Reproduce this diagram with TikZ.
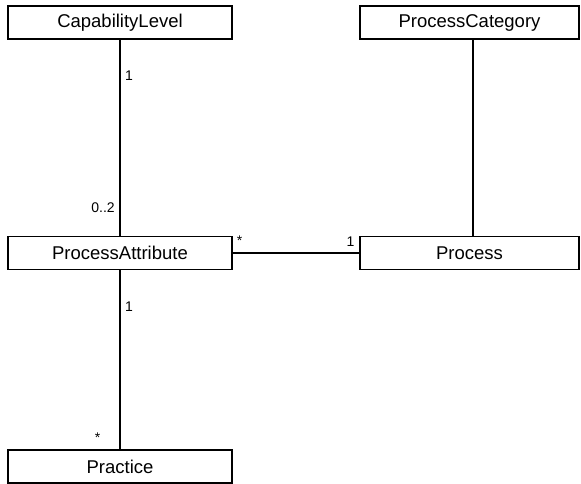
\documentclass[tikz,border=0pt]{standalone}
\usepackage{fontspec}
\setmainfont{Liberation Sans}
\begin{document}
\begin{tikzpicture}[x=1pt, y=-1pt,
  classbox/.style={draw, line width=1.5pt, minimum width=224pt, minimum height=33pt,
    inner sep=0pt, font=\fontsize{18.5}{22}\selectfont},
  assoc/.style={line width=1.5pt},
  mult/.style={inner sep=0pt, anchor=base, font=\fontsize{14}{16}\selectfont}]
  \useasboundingbox (0,0) rectangle (581,484);

  % classes
  \node[classbox, minimum width=224pt] (cap)  at (120,22.5)  {CapabilityLevel};
  \node[classbox, minimum width=219pt] (cat)  at (469.5,22.5) {ProcessCategory};
  \node[classbox, minimum width=224pt] (attr) at (120,252.75) {ProcessAttribute};
  \node[classbox, minimum width=219pt] (proc) at (469.5,252.75) {Process};
  \node[classbox, minimum width=224pt] (prac) at (120,466.5) {Practice};

  % associations
  \draw[assoc] (cap.south) -- (attr.north);
  \draw[assoc] (attr.east) -- (proc.west);
  \draw[assoc] (attr.south) -- (prac.north);
  \draw[assoc] ([xshift=3.5pt]cat.south) -- ([xshift=3.5pt]proc.north);

  % multiplicities
  \node[mult] (m1) at (129,80.7)  {1};
  \node[mult] (m2) at (103,212.7) {0..2};
  \node[mult] (m3) at (239.5,245) {*};
  \node[mult] (m4) at (350.5,246) {1};
  \node[mult] (m5) at (129,311.5) {1};
  \node[mult] (m6) at (97.5,442)  {*};
\end{tikzpicture}
\end{document}
